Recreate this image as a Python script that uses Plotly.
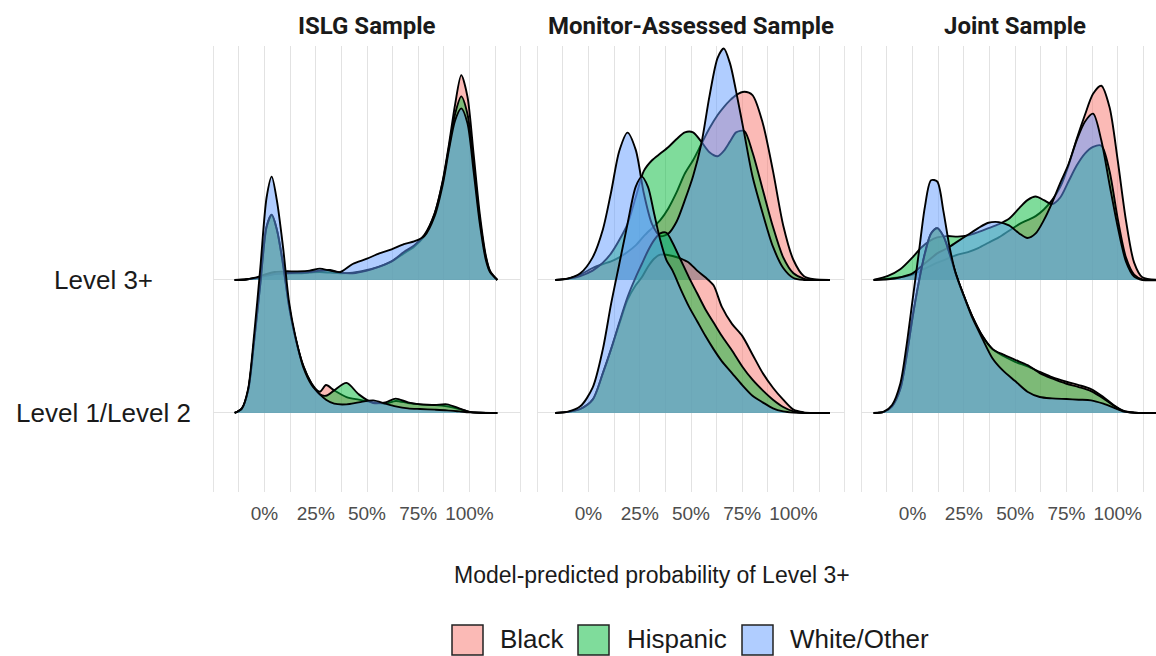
import plotly.graph_objects as go

# ---------------- data ----------------
panels = ["ISLG Sample", "Monitor-Assessed Sample", "Joint Sample"]
levels = ["Level 1/Level 2", "Level 3+"]          # y positions 1, 2
groups = ["Black", "Hispanic", "White/Other"]
tick_vals = [0, 0.25, 0.5, 0.75, 1.0]
tick_text = ["0%", "25%", "50%", "75%", "100%"]
minor_vals = [-0.125, 0.125, 0.375, 0.625, 0.875, 1.125]
edge_vals = [-0.25, 1.25]
axis_title = "Model-predicted probability of Level 3+"

# ISLG, Level 3+
islg_l3_x = [-0.146, -0.09, -0.04, 0.0, 0.05, 0.1, 0.16, 0.22, 0.27, 0.32, 0.37, 0.43, 0.5, 0.56, 0.62,
             0.68, 0.73, 0.78, 0.83, 0.87, 0.9, 0.93, 0.96, 0.99, 1.02, 1.05, 1.08, 1.1, 1.136]
islg_l3_black = [0, 0.004, 0.015, 0.03, 0.045, 0.05, 0.05, 0.055, 0.06, 0.055, 0.05, 0.055, 0.075, 0.1, 0.14,
                 0.2, 0.25, 0.33, 0.5, 0.75, 1.02, 1.32, 1.54, 1.38, 0.95, 0.5, 0.18, 0.07, 0]
islg_l3_hisp = [0, 0.004, 0.015, 0.03, 0.045, 0.05, 0.055, 0.06, 0.07, 0.075, 0.055, 0.05, 0.07, 0.1, 0.14,
                0.21, 0.26, 0.34, 0.5, 0.74, 1.0, 1.25, 1.38, 1.25, 0.88, 0.46, 0.17, 0.065, 0]
islg_l3_white = [0, 0.005, 0.02, 0.04, 0.06, 0.065, 0.065, 0.07, 0.085, 0.07, 0.06, 0.12, 0.16, 0.2, 0.23,
                 0.27, 0.29, 0.33, 0.48, 0.72, 0.98, 1.2, 1.29, 1.18, 0.82, 0.43, 0.15, 0.06, 0]

# ISLG, Level 1/Level 2
islg_l1_x = [-0.146, -0.11, -0.08, -0.05, -0.02, 0.01, 0.035, 0.06, 0.09, 0.12, 0.15, 0.19, 0.23, 0.27, 0.3,
             0.34, 0.4, 0.46, 0.53, 0.59, 0.64, 0.7, 0.76, 0.83, 0.89, 0.95, 1.0, 1.05, 1.136]
islg_l1_black = [0, 0.035, 0.17, 0.55, 0.98, 1.4, 1.49, 1.38, 1.12, 0.8, 0.57, 0.35, 0.22, 0.16, 0.21,
                 0.17, 0.12, 0.1, 0.08, 0.07, 0.09, 0.075, 0.065, 0.06, 0.05, 0.03, 0.008, 0.002, 0]
islg_l1_hisp = [0, 0.035, 0.17, 0.55, 0.98, 1.4, 1.49, 1.38, 1.12, 0.8, 0.57, 0.35, 0.22, 0.14, 0.13,
                0.17, 0.226, 0.14, 0.075, 0.08, 0.108, 0.08, 0.065, 0.06, 0.065, 0.035, 0.008, 0.002, 0]
islg_l1_white = [0, 0.035, 0.18, 0.6, 1.1, 1.62, 1.777, 1.6, 1.25, 0.83, 0.58, 0.34, 0.21, 0.14, 0.1,
                 0.07, 0.065, 0.08, 0.095, 0.07, 0.05, 0.035, 0.03, 0.025, 0.02, 0.012, 0.005, 0.002, 0]

# Monitor-Assessed, Level 3+
mon_l3_x = [-0.162, -0.1, -0.04, 0.02, 0.07, 0.11, 0.15, 0.19, 0.23, 0.27, 0.31, 0.35, 0.39, 0.43, 0.47, 0.51,
            0.55, 0.59, 0.63, 0.66, 0.69, 0.72, 0.76, 0.8, 0.85, 0.9, 0.95, 1.0, 1.05, 1.1, 1.178]
mon_l3_black = [0, 0.01, 0.04, 0.09, 0.12, 0.14, 0.17, 0.21, 0.26, 0.33, 0.39, 0.45, 0.54, 0.66, 0.8, 0.9,
                1.02, 1.14, 1.24, 1.3, 1.35, 1.39, 1.415, 1.39, 1.18, 0.82, 0.41, 0.15, 0.03, 0.005, 0]
mon_l3_hisp = [0, 0.01, 0.03, 0.07, 0.13, 0.2, 0.3, 0.42, 0.62, 0.82, 0.9, 0.95, 1.0, 1.06, 1.11, 1.11,
               1.04, 0.96, 0.93, 0.97, 1.04, 1.11, 1.12, 0.96, 0.68, 0.4, 0.17, 0.05, 0.01, 0, 0]
mon_l3_white = [0, 0.01, 0.05, 0.17, 0.38, 0.66, 0.97, 1.108, 0.98, 0.65, 0.42, 0.33, 0.35, 0.44, 0.6, 0.78,
                1.02, 1.38, 1.67, 1.74, 1.63, 1.42, 1.1, 0.78, 0.5, 0.25, 0.09, 0.015, 0, 0, 0]

# Monitor-Assessed, Level 1/Level 2
mon_l1_x = [-0.162, -0.1, -0.04, 0.02, 0.07, 0.11, 0.15, 0.19, 0.23, 0.26, 0.29, 0.32, 0.35, 0.38, 0.41, 0.45,
            0.49, 0.53, 0.57, 0.61, 0.65, 0.7, 0.75, 0.8, 0.85, 0.9, 0.95, 1.0, 1.05, 1.1, 1.178]
mon_l1_black = [0, 0.008, 0.03, 0.1, 0.3, 0.48, 0.67, 0.85, 0.96, 1.02, 1.1, 1.16, 1.19, 1.19, 1.18, 1.16,
                1.13, 1.07, 1.02, 0.96, 0.8, 0.67, 0.58, 0.44, 0.3, 0.19, 0.1, 0.025, 0.005, 0, 0]
mon_l1_hisp = [0, 0.008, 0.03, 0.1, 0.3, 0.48, 0.68, 0.87, 1.02, 1.12, 1.22, 1.3, 1.35, 1.355, 1.28, 1.15,
               1.02, 0.9, 0.78, 0.68, 0.58, 0.47, 0.35, 0.25, 0.17, 0.1, 0.045, 0.012, 0, 0, 0]
mon_l1_white = [0, 0.01, 0.05, 0.19, 0.48, 0.82, 1.12, 1.42, 1.7, 1.777, 1.7, 1.5, 1.3, 1.15, 1.07, 0.93,
                0.8, 0.69, 0.58, 0.48, 0.39, 0.3, 0.21, 0.13, 0.08, 0.035, 0.012, 0.003, 0, 0, 0]

# Joint, Level 3+
joint_l3_x = [-0.19, -0.12, -0.06, 0.0, 0.04, 0.08, 0.12, 0.17, 0.22, 0.27, 0.32, 0.37, 0.42, 0.47, 0.52, 0.56,
              0.6, 0.64, 0.68, 0.72, 0.76, 0.8, 0.84, 0.88, 0.92, 0.96, 1.0, 1.04, 1.08, 1.12, 1.22]
joint_l3_black = [0, 0.01, 0.02, 0.04, 0.07, 0.1, 0.13, 0.16, 0.19, 0.21, 0.24, 0.28, 0.32, 0.37, 0.42, 0.45,
                  0.48, 0.53, 0.6, 0.7, 0.86, 1.06, 1.24, 1.4, 1.46, 1.3, 0.9, 0.45, 0.13, 0.02, 0]
joint_l3_hisp = [0, 0.03, 0.08, 0.17, 0.24, 0.29, 0.32, 0.33, 0.326, 0.335, 0.36, 0.39, 0.42, 0.46, 0.54, 0.6,
                 0.627, 0.6, 0.57, 0.62, 0.74, 0.86, 0.95, 1.0, 1.01, 0.82, 0.46, 0.17, 0.04, 0.005, 0]
joint_l3_white = [0, 0.005, 0.02, 0.05, 0.1, 0.15, 0.2, 0.24, 0.29, 0.34, 0.39, 0.43, 0.435, 0.41, 0.35, 0.315,
                  0.35, 0.45, 0.58, 0.73, 0.87, 1.05, 1.19, 1.25, 1.05, 0.72, 0.4, 0.14, 0.025, 0, 0]

# Joint, Level 1/Level 2
joint_l1_x = [-0.19, -0.14, -0.1, -0.06, -0.03, 0.0, 0.03, 0.06, 0.09, 0.12, 0.15, 0.18, 0.21, 0.25, 0.29, 0.34,
              0.39, 0.44, 0.5, 0.56, 0.62, 0.68, 0.75, 0.81, 0.87, 0.93, 0.98, 1.03, 1.08, 1.14, 1.22]
joint_l1_black = [0, 0.008, 0.05, 0.18, 0.42, 0.72, 0.98, 1.2, 1.35, 1.39, 1.33, 1.2, 1.05, 0.88, 0.73, 0.58,
                  0.48, 0.43, 0.385, 0.35, 0.31, 0.27, 0.235, 0.21, 0.18, 0.12, 0.06, 0.015, 0.003, 0, 0]
joint_l1_hisp = [0, 0.008, 0.05, 0.18, 0.42, 0.72, 0.98, 1.2, 1.35, 1.39, 1.33, 1.2, 1.05, 0.88, 0.73, 0.58,
                 0.48, 0.44, 0.4, 0.36, 0.3, 0.26, 0.22, 0.195, 0.165, 0.11, 0.055, 0.013, 0.003, 0, 0]
joint_l1_white = [0, 0.01, 0.06, 0.22, 0.5, 0.85, 1.2, 1.55, 1.75, 1.74, 1.52, 1.25, 1.05, 0.88, 0.72, 0.56,
                  0.41, 0.32, 0.24, 0.16, 0.12, 0.11, 0.105, 0.1, 0.095, 0.07, 0.04, 0.01, 0.002, 0, 0]

ridges = {
    0: {"Level 3+": (islg_l3_x, [islg_l3_black, islg_l3_hisp, islg_l3_white]),
        "Level 1/Level 2": (islg_l1_x, [islg_l1_black, islg_l1_hisp, islg_l1_white])},
    1: {"Level 3+": (mon_l3_x, [mon_l3_black, mon_l3_hisp, mon_l3_white]),
        "Level 1/Level 2": (mon_l1_x, [mon_l1_black, mon_l1_hisp, mon_l1_white])},
    2: {"Level 3+": (joint_l3_x, [joint_l3_black, joint_l3_hisp, joint_l3_white]),
        "Level 1/Level 2": (joint_l1_x, [joint_l1_black, joint_l1_hisp, joint_l1_white])},
}

# ---------------- style ----------------
W, H = 1156, 656
fills = ["rgba(248,118,109,0.5)", "rgba(0,186,56,0.5)", "rgba(97,156,255,0.5)"]
grid_col = "#E2E2E2"
panel_px = [(213, 521), (537, 845), (861, 1169)]
y_top_px, y_bot_px = 46, 492
yrange = [0.406, 3.759]

fig = go.Figure()
for p in range(3):
    xa = "x" if p == 0 else f"x{p+1}"
    ya = "y" if p == 0 else f"y{p+1}"
    for lev in ["Level 3+", "Level 1/Level 2"]:
        base = levels.index(lev) + 1
        xs, hs = ridges[p][lev]
        for g, h in enumerate(hs):
            fig.add_trace(go.Scatter(x=[xs[0], xs[-1]], y=[base, base], mode="lines",
                                     line=dict(width=0), xaxis=xa, yaxis=ya,
                                     showlegend=False, hoverinfo="skip"))
            fig.add_trace(go.Scatter(x=xs, y=[base + v for v in h], mode="lines",
                                     line=dict(color="black", width=1.9, shape="spline", smoothing=0.8),
                                     fill="tonexty", fillcolor=fills[g], name=groups[g],
                                     xaxis=xa, yaxis=ya, showlegend=False, hoverinfo="skip"))

layout = dict(width=W, height=H, margin=dict(l=0, r=0, t=0, b=0),
              plot_bgcolor="white", paper_bgcolor="white", showlegend=False)
ydom = [1 - y_bot_px / H, 1 - y_top_px / H]
shapes = []
for p in range(3):
    x0, x1 = panel_px[p]
    dom = [x0 / W, min(x1 / W, 1.0)]
    xr_end = 1.2515 if x1 <= W else -0.25 + (W - x0) / (x1 - x0) * 1.5
    key = "xaxis" if p == 0 else f"xaxis{p+1}"
    ykey = "yaxis" if p == 0 else f"yaxis{p+1}"
    xa = "x" if p == 0 else f"x{p+1}"
    ya = "y" if p == 0 else f"y{p+1}"
    layout[key] = dict(domain=dom, range=[-0.2515, xr_end], anchor=ya,
                       tickvals=tick_vals, ticktext=tick_text, showgrid=True, gridcolor=grid_col,
                       gridwidth=1.2, zeroline=False, showline=False, ticks="",
                       ticklabelstandoff=8,
                       tickfont=dict(family="Liberation Sans", size=19, color="#4D4D4D"),
                       minor=dict(tickmode="array", tickvals=minor_vals, showgrid=True,
                                  gridcolor=grid_col, gridwidth=1.2, ticks=""),
                       fixedrange=True)
    layout[ykey] = dict(domain=ydom, range=yrange, anchor=xa,
                        tickvals=[1, 2], showticklabels=False, showgrid=True, gridcolor=grid_col,
                        gridwidth=1.2, zeroline=False, showline=False, ticks="", fixedrange=True)
    # gridlines at the panel edges (-25% / 125%)
    for ev in edge_vals:
        if ev <= xr_end:
            shapes.append(dict(type="line", xref=xa, yref=f"{ya} domain", x0=ev, x1=ev, y0=0, y1=1,
                               line=dict(color=grid_col, width=1.2), layer="below"))
fig.update_layout(**layout)

ann = []
for p, name in enumerate(panels):
    x0, x1 = panel_px[p]
    ann.append(dict(x=(x0 + x1) / 2 / W, y=1 - 26 / H, xref="paper", yref="paper",
                    text=f"<b>{name}</b>", showarrow=False, xanchor="center", yanchor="middle",
                    font=dict(family="Roboto", size=24, color="#1A1A1A")))
for i, lev in enumerate(levels):
    ann.append(dict(x=103 / W, y=i + 1, xref="paper", yref="y", text=lev, showarrow=False,
                    xanchor="center", yanchor="middle",
                    font=dict(family="Liberation Sans", size=26, color="#1A1A1A")))
ann.append(dict(x=652 / W, y=1 - 575 / H, xref="paper", yref="paper", text=axis_title,
                showarrow=False, xanchor="center", yanchor="middle",
                font=dict(family="Liberation Sans", size=23, color="#1A1A1A")))

# legend (manual, ggplot style)
leg_box_x = [452, 578, 742]
leg_txt_x = [498, 625, 788]
for g in range(3):
    bx = leg_box_x[g]
    shapes.append(dict(type="rect", xref="paper", yref="paper",
                       x0=bx / W, x1=(bx + 31) / W, y0=1 - 655 / H, y1=1 - 625 / H,
                       fillcolor=fills[g], line=dict(color="#222", width=1.5)))
    ann.append(dict(x=leg_txt_x[g] / W, y=1 - 639 / H, xref="paper", yref="paper", text=groups[g],
                    showarrow=False, xanchor="left", yanchor="middle",
                    font=dict(family="Liberation Sans", size=26, color="#1A1A1A")))
fig.update_layout(annotations=ann, shapes=shapes)

fig.write_html("out.html")
